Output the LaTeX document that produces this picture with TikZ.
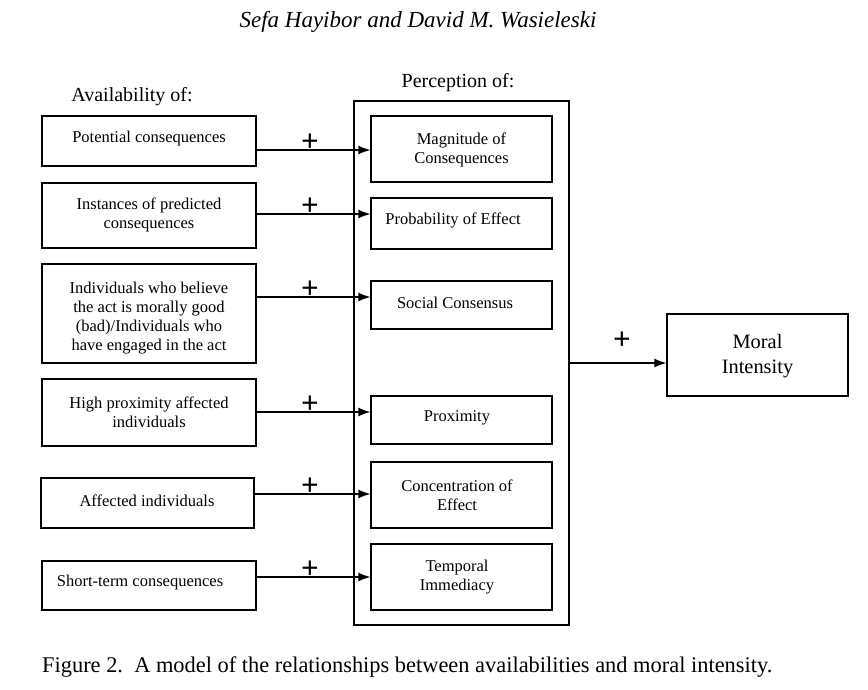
\documentclass[tikz,border=0pt]{standalone}
\usepackage{fontspec}
\setmainfont{Liberation Serif}
\usetikzlibrary{arrows.meta}
\begin{document}
\begin{tikzpicture}[x=1pt,y=-1pt,
 box/.style={draw, line width=1.3pt, inner sep=0pt},
 txt/.style={font=\fontsize{16.5}{19}\selectfont, align=center, inner sep=0pt, yshift=-2.5pt},
 head/.style={font=\fontsize{20}{22}\selectfont, inner sep=0pt},
 arr/.style={line width=1.3pt, -{Latex[length=12pt,width=9pt]}},
 plus/.style={font=\fontsize{31}{31}\selectfont\bfseries, inner sep=0pt}]
\useasboundingbox (0,0) rectangle (868,690);
% title and caption
\node[font=\fontsize{23}{25}\selectfont\itshape, inner sep=0pt] (title) at (418,22) {Sefa Hayibor and David M. Wasieleski};
\node[font=\fontsize{22.4}{24}\selectfont, inner sep=0pt, anchor=west] (cap) at (42,667) {Figure 2.\ \ A model of the relationships between availabilities and moral intensity.};
\node[head] (avail) at (132,97) {Availability of:};
\node[head] (perc) at (458,83) {Perception of:};
% left boxes
\node[box, minimum width=214, minimum height=50] (a1) at (149,141) {};
\node[box, minimum width=214, minimum height=65] (a2) at (149,215.5) {};
\node[box, minimum width=214, minimum height=99] (a3) at (149,313.5) {};
\node[box, minimum width=214, minimum height=67] (a4) at (149,412.5) {};
\node[box, minimum width=213, minimum height=50] (a5) at (147.5,503) {};
\node[box, minimum width=214, minimum height=49] (a6) at (149,585.5) {};
\node[txt] (ta1) at (149,136) {Potential consequences};
\node[txt] (ta2) at (149,212.5) {Instances of predicted\\consequences};
\node[txt] (ta3) at (149,315.5) {Individuals who believe\\the act is morally good\\(bad)/Individuals who\\have engaged in the act};
\node[txt] (ta4) at (149,409.5) {High proximity affected\\individuals};
\node[txt] (ta5) at (147,498) {Affected individuals};
\node[txt] (ta6) at (140,580) {Short-term consequences};
% big box
\node[box, minimum width=215, minimum height=524] (big) at (461.5,363) {};
% inner boxes
\node[box, minimum width=181, minimum height=66] (p1) at (461.5,149) {};
\node[box, minimum width=181, minimum height=51] (p2) at (461.5,223.5) {};
\node[box, minimum width=181, minimum height=48] (p3) at (461.5,305) {};
\node[box, minimum width=181, minimum height=48] (p4) at (461.5,420) {};
\node[box, minimum width=181, minimum height=66] (p5) at (461.5,495) {};
\node[box, minimum width=181, minimum height=66] (p6) at (461.5,577) {};
\node[txt] (tp1) at (461.5,147) {Magnitude of\\Consequences};
\node[txt] (tp2) at (453,218) {Probability of Effect};
\node[txt] (tp3) at (455,300) {Social Consensus};
\node[txt] (tp4) at (457,415) {Proximity};
\node[txt] (tp5) at (457,492.5) {Concentration of\\Effect};
\node[txt] (tp6) at (457,574.5) {Temporal\\Immediacy};
% moral intensity
\node[box, minimum width=181, minimum height=82] (mi) at (757.5,355) {};
\node[font=\fontsize{20.4}{25}\selectfont, align=center, inner sep=0pt, yshift=-2pt] (tmi) at (757.5,354.5) {Moral\\Intensity};
% arrows
\coordinate (y1) at (0,150);
\coordinate (y2) at (0,214);
\coordinate (y3) at (0,297);
\coordinate (y4) at (0,412);
\coordinate (y5) at (0,494);
\coordinate (y6) at (0,577);
\draw[arr] (a1.east |- y1) -- (p1.west |- y1);
\draw[arr] (a2.east |- y2) -- (p2.west |- y2);
\draw[arr] (a3.east |- y3) -- (p3.west |- y3);
\draw[arr] (a4.east |- y4) -- (p4.west |- y4);
\draw[arr] (a5.east |- y5) -- (p5.west |- y5);
\draw[arr] (a6.east |- y6) -- (p6.west |- y6);
\draw[arr] (big.east) -- (big.east -| mi.west);
% plus signs
\node[plus] (s1) at (310,143) {+};
\node[plus] (s2) at (310,207) {+};
\node[plus] (s3) at (310,290) {+};
\node[plus] (s4) at (310,405) {+};
\node[plus] (s5) at (310,487) {+};
\node[plus] (s6) at (310,570) {+};
\node[plus] (s7) at (622,341) {+};
\end{tikzpicture}
\end{document}
